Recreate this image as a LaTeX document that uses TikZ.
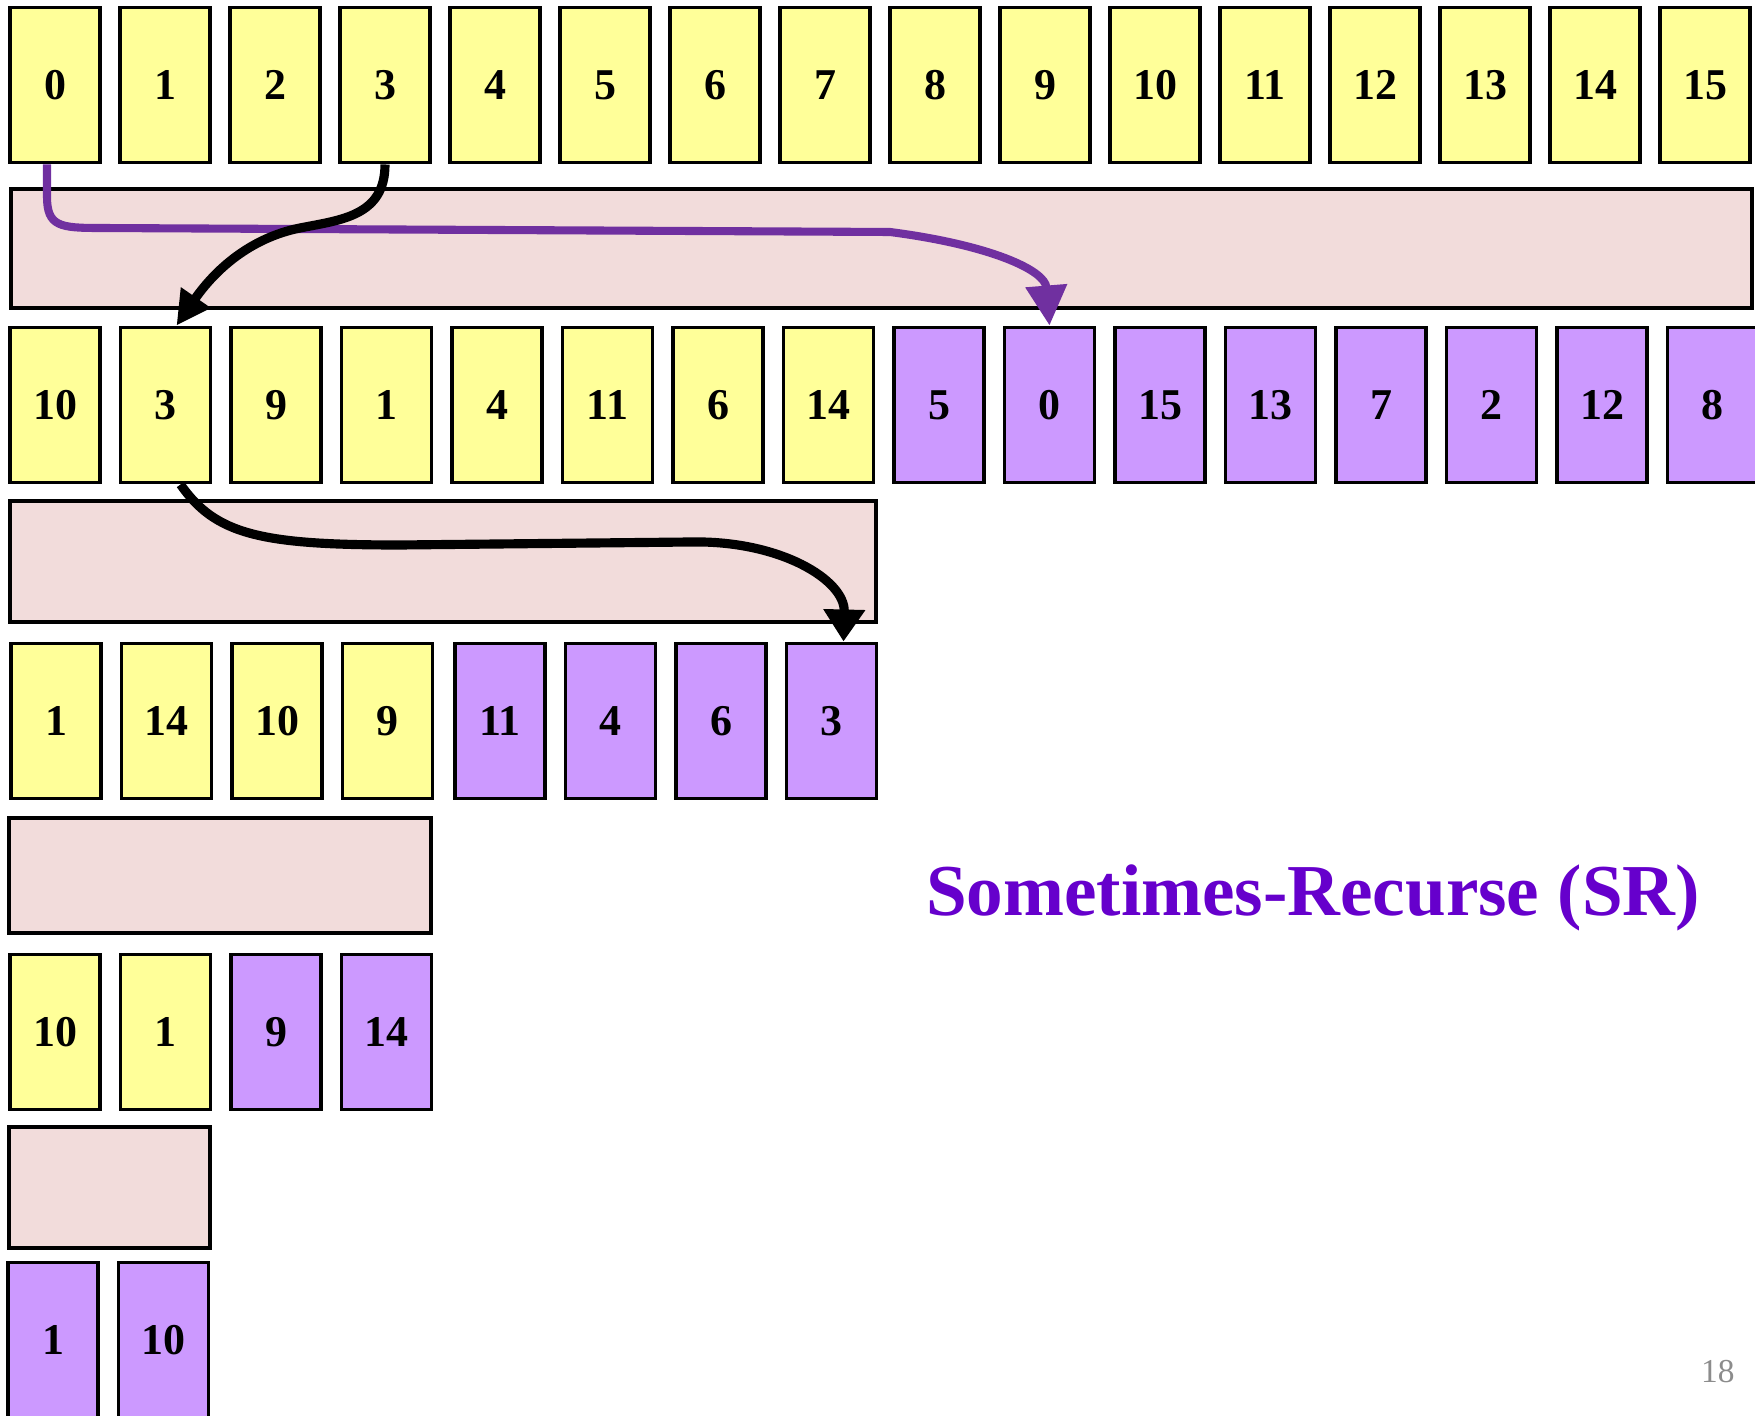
\documentclass[tikz,border=0pt]{standalone}
\usepackage{fontspec}
\setmainfont{Liberation Serif}
\usetikzlibrary{arrows.meta}

\definecolor{celly}{HTML}{FFFF99}
\definecolor{cellp}{HTML}{CC99FF}
\definecolor{bandpink}{HTML}{F2DCDB}
\definecolor{arrowp}{HTML}{7030A0}
\definecolor{titlep}{HTML}{6600CC}
\definecolor{pagegray}{HTML}{8C8C8C}

\begin{document}
\begin{tikzpicture}[x=0.01cm, y=-0.01cm,
  cell/.style={draw, line width=1.1pt, minimum width=0.9cm, minimum height=1.55cm,
    inner sep=0pt, font=\fontsize{12.5}{15}\selectfont\bfseries},
  lo/.style={cell, fill=celly},
  hi/.style={cell, fill=cellp},
  band/.style={draw, line width=1.1pt, fill=bandpink},
  move/.style={line width=2.6pt, -{Triangle[length=0.34cm, width=0.34cm]}}]
  \useasboundingbox (0,0) rectangle (1755,1416);

  % bands between the rows
  \draw[band] (11,189) rectangle (1752,308);
  \draw[band] (10,501) rectangle (876,622);
  \draw[band] (9,818) rectangle (431,933);
  \draw[band] (9,1127) rectangle (210,1248);

  % row 1
  \foreach \v [count=\i from 0] in {0,...,15}
    \node[lo] (a\i) at (55+110*\i, 85) {\v};
  % row 2
  \foreach \v [count=\i from 0] in {10,3,9,1,4,11,6,14}
    \node[lo] (b\i) at (55+110.5*\i, 405) {\v};
  \foreach \v [count=\i from 8] in {5,0,15,13,7,2,12,8}
    \node[hi] (b\i) at (55+110.5*\i, 405) {\v};
  % row 3
  \foreach \v [count=\i from 0] in {1,14,10,9}
    \node[lo] (c\i) at (56+110.5*\i, 721) {\v};
  \foreach \v [count=\i from 4] in {11,4,6,3}
    \node[hi] (c\i) at (58+110.5*\i, 721) {\v};
  % row 4
  \foreach \v [count=\i from 0] in {10,1}
    \node[lo] (d\i) at (55+110.5*\i, 1032) {\v};
  \foreach \v [count=\i from 2] in {9,14}
    \node[hi] (d\i) at (55+110.5*\i, 1032) {\v};
  % row 5
  \foreach \v [count=\i from 0] in {1,10}
    \node[hi] (e\i) at (53+110.5*\i, 1340) {\v};

  % moves
  \draw[move, arrowp, line width=2.3pt, -{Triangle[length=0.4cm, width=0.4cm]}]
    ([xshift=-0.08cm]a0.south) -- ++(0,32) .. controls +(0,30) and +(-40,0) .. (100,228)
    -- (890,232) .. controls (990,245) and (1045,270) .. (b9.north);
  \draw[move] (a3.south) .. controls +(0,52) and (340,220) .. (300,228)
    .. controls (250,238) and (215,270) .. ([xshift=0.11cm]b1.north);
  \draw[move, -{Triangle[length=0.32cm, width=0.4cm]}]
    ([xshift=0.15cm]b1.south) .. controls +(35,50) and (260,545) .. (400,545)
    -- (690,542) .. controls (780,540) and (845,580) .. ([xshift=0.12cm]c7.north);

  \node[titlep, font=\fontsize{20.8}{25}\selectfont\bfseries, anchor=base]
    (title) at (1313,915) {Sometimes-Recurse (SR)};
  \node[pagegray, font=\fontsize{9.5}{11}\selectfont, anchor=base east]
    (page) at (1747,1382) {18};
\end{tikzpicture}
\end{document}
